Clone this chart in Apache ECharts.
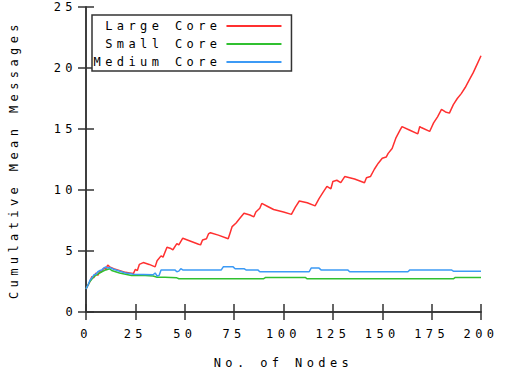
<!DOCTYPE html>
<html>
<head>
<meta charset="utf-8">
<script src="https://cdn.jsdelivr.net/npm/echarts@6/dist/echarts.min.js"></script>
<style>
    html, body { margin: 0; padding: 0; background: #fff; }
    #chart { width: 505px; height: 374px; }
    /* gnuplot style wide pixel font */
    #chart text { letter-spacing: 4.4px; }
</style>
</head>
<body>
<div id="chart"></div>
<script>
const xTicks = [0, 25, 50, 75, 100, 125, 150, 175, 200]
const yTicks = [0, 5, 10, 15, 20, 25]

const largeNodes = [0, 2, 3, 4, 5, 6, 7, 8, 9, 10, 11, 12, 14, 16, 18, 20, 22, 24, 25, 26,
    27, 29, 32, 35, 36, 38, 39, 41, 43, 44, 46, 47, 49, 53, 57, 58, 59, 61, 62, 63,
    67, 72, 73, 74, 76, 78, 80, 83, 85, 86, 88, 89, 92, 95, 100, 104, 106, 108, 112, 116,
    118, 120, 122, 124, 125, 127, 129, 131, 136, 141, 142, 144, 146, 148, 150, 152, 153, 155, 157, 159,
    160, 164, 168, 169, 170, 174, 176, 178, 180, 182, 184, 186, 188, 190, 192, 194, 196, 198, 200]
const largeMsgs = [1.9, 2.5, 2.9, 2.8, 3.2, 3.0, 3.4, 3.3, 3.6, 3.5, 3.85, 3.7, 3.55, 3.45, 3.35, 3.25, 3.2, 3.15, 3.5, 3.4,
    3.9, 4.05, 3.9, 3.7, 4.2, 4.6, 4.5, 5.3, 5.2, 5.1, 5.6, 5.5, 6.05, 5.8, 5.55, 5.5, 5.9, 6.0, 6.4, 6.5,
    6.3, 6.0, 6.5, 7.0, 7.3, 7.7, 8.1, 7.95, 7.8, 8.2, 8.5, 8.9, 8.65, 8.4, 8.2, 8.0, 8.6, 9.1, 8.95, 8.7,
    9.3, 9.8, 10.3, 10.1, 10.7, 10.8, 10.6, 11.1, 10.9, 10.6, 11.0, 11.1, 11.7, 12.2, 12.6, 12.7, 13.0, 13.4, 14.3, 14.9,
    15.2, 14.9, 14.6, 15.2, 15.1, 14.8, 15.5, 16.0, 16.6, 16.4, 16.3, 17.0, 17.5, 17.9, 18.4, 19.0, 19.6, 20.3, 21.0]

const smallNodes = [0, 2, 4, 6, 8, 10, 12, 13, 15, 17, 20, 23, 26, 30, 34, 36, 40, 46, 47, 90,
    91, 111, 112, 186, 187, 200]
const smallMsgs = [1.9, 2.5, 2.9, 3.1, 3.3, 3.45, 3.55, 3.4, 3.3, 3.2, 3.1, 3.0, 3.0, 3.0, 2.95, 2.85, 2.85, 2.8, 2.73, 2.73,
    2.83, 2.83, 2.72, 2.72, 2.83, 2.83]

const mediumNodes = [0, 1, 2, 3, 4, 5, 6, 7, 8, 9, 10, 11, 12, 14, 16, 18, 20, 22, 24, 34,
    35, 36, 37, 38, 45, 46, 47, 48, 49, 68.5, 69.5, 74.5, 75.5, 80, 81, 87, 88, 113, 114, 118,
    119, 132.5, 133.5, 163, 164, 185, 186, 200]
const mediumMsgs = [1.9, 2.2, 2.6, 2.8, 3.05, 3.1, 3.3, 3.4, 3.45, 3.6, 3.7, 3.6, 3.65, 3.5, 3.4, 3.3, 3.2, 3.15, 3.1, 3.05,
    3.2, 2.95, 3.0, 3.45, 3.45, 3.3, 3.35, 3.55, 3.45, 3.45, 3.7, 3.7, 3.55, 3.55, 3.45, 3.45, 3.3, 3.3, 3.6, 3.6,
    3.45, 3.45, 3.3, 3.3, 3.45, 3.45, 3.35, 3.35]

const font = 'DejaVu Sans Mono'
const fontSize = 12
const frameColor = '#333'

const zip = (xs, ys) => xs.map((x, i) => [x, ys[i]])

const makeX = (position, showLabel) => ({
    type: 'value',
    position,
    min: xTicks[0],
    max: xTicks[xTicks.length - 1],
    interval: 25,
    name: showLabel ? 'No. of Nodes' : '',
    nameLocation: 'middle',
    nameGap: 45,
    nameTextStyle: { fontFamily: font, fontSize, color: '#000' },
    axisLine: { show: true, lineStyle: { color: frameColor, width: 1.5 } },
    axisTick: { show: true, inside: true, length: 8, lineStyle: { color: frameColor, width: 1.5 } },
    axisLabel: { show: showLabel, margin: 16, fontFamily: font, fontSize, color: '#000' },
    splitLine: { show: false }
})

const makeY = (position, showLabel) => ({
    type: 'value',
    position,
    min: yTicks[0],
    max: yTicks[yTicks.length - 1],
    interval: 5,
    name: showLabel ? 'Cumulative Mean Messages' : '',
    nameLocation: 'middle',
    nameGap: 66,
    nameTextStyle: { fontFamily: font, fontSize, color: '#000' },
    axisLine: { show: true, lineStyle: { color: frameColor, width: 1.5 } },
    axisTick: { show: true, inside: true, length: 8, lineStyle: { color: frameColor, width: 1.5 } },
    axisLabel: { show: showLabel, margin: 9, fontFamily: font, fontSize, color: '#000' },
    splitLine: { show: false }
})

const lineSeries = (name, color, xs, ys) => ({
    name,
    type: 'line',
    data: zip(xs, ys),
    symbol: 'none',
    lineStyle: { color, width: 1.5 },
    itemStyle: { color }
})

const chart = echarts.init(document.getElementById('chart'), null, { renderer: 'svg' })
chart.setOption({
    animation: false,
    grid: { left: 81, right: 24, top: 7, bottom: 56 },
    legend: {
        orient: 'vertical',
        left: 92,
        top: 15,
        align: 'right',
        padding: [5, 10, 3, 50],
        icon: 'path://M0,0H55V2H0Z',
        itemWidth: 55,
        itemHeight: 14,
        itemGap: 6,
        borderColor: frameColor,
        borderWidth: 1.5,
        backgroundColor: '#fff',
        textStyle: { fontFamily: font, fontSize, color: '#000' },
        data: ['Large Core', 'Small Core', 'Medium Core']
    },
    xAxis: [makeX('bottom', true), makeX('top', false)],
    yAxis: [makeY('left', true), makeY('right', false)],
    series: [
        lineSeries('Large Core', '#ff3030', largeNodes, largeMsgs),
        lineSeries('Small Core', '#30c030', smallNodes, smallMsgs),
        lineSeries('Medium Core', '#3c9af5', mediumNodes, mediumMsgs)
    ]
})
</script>
</body>
</html>
